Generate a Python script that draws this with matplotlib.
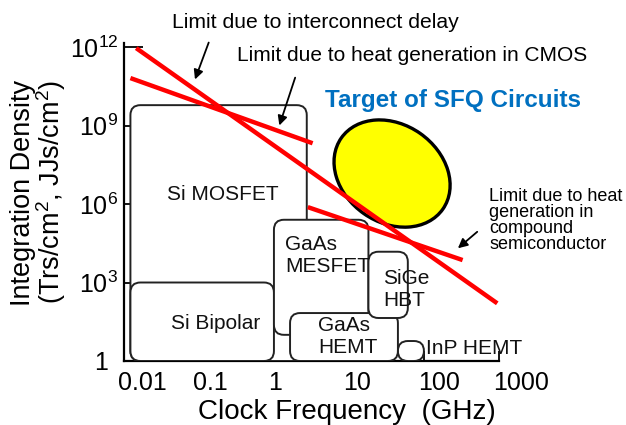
import matplotlib
matplotlib.use("Agg")
import matplotlib.pyplot as plt
from matplotlib.patches import FancyBboxPatch, Ellipse
from matplotlib.transforms import IdentityTransform, ScaledTranslation

plt.rcParams['font.family'] = ['Liberation Sans', 'DejaVu Sans']
plt.rcParams['mathtext.fontset'] = 'custom'
plt.rcParams['mathtext.rm'] = 'Liberation Sans'
plt.rcParams['mathtext.it'] = 'Liberation Sans:italic'
plt.rcParams['mathtext.bf'] = 'Liberation Sans:bold'

# device regions: clock frequency range (GHz) x integration density range
devices = ["Si MOSFET", "Si Bipolar", "GaAs\nMESFET", "GaAs\nHEMT", "SiGe\nHBT", "InP HEMT"]
f_low = [0.0122, 0.0122, 1.0, 1.64, 18.2, 45]
f_high = [2.74, 1.0, 18.2, 45, 61, 100]
d_low = [1, 1, 10, 1, 44, 1]
d_high = [6e9, 1e3, 2.5e5, 68, 1.5e4, 5.8]

# where each device name sits
label_f = [0.21, 0.165, 1.40, 3.9, 28.5, 105]
label_d = [2.4e6, 28, 1.07e4, 9.0, 540, 3.1]
label_ha = ["center", "center", "left", "left", "left", "left"]

# limit lines (two end points each)
interconnect_f = [0.01455, 950]
interconnect_d = [9.1e11, 160]
cmos_f = [0.0122, 3.28]
cmos_d = [6.5e10, 2.1e8]
compound_f = [2.83, 328]
compound_d = [7.6e5, 7.2e3]

# SFQ target region
sfq_f = 37.6
sfq_d = 1.46e7

xticks = [0.01, 0.1, 1, 10, 100, 1000]
xticklabels = ["0.01", "0.1", "1", "10", "100", "1000"]
yticks = [1, 1e3, 1e6, 1e9, 1e12]
yticklabels = ["1", "$10^3$", "$10^6$", "$10^9$", "$10^{12}$"]

fig = plt.figure(figsize=(6.26, 4.25), dpi=100)
ax = fig.add_axes([0.198, 0.1506, 0.599, 0.748])
ax.set_xscale("log")
ax.set_yscale("log")
ax.set_xlim(0.0122, 1000)
ax.set_ylim(1, 10**12.15)

for side in ["top", "right"]:
    ax.spines[side].set_visible(False)
for side in ["left", "bottom"]:
    ax.spines[side].set_linewidth(1.6)
    ax.spines[side].set_zorder(1)

ax.set_xticks(xticks)
ax.set_xticklabels(xticklabels, ha="left")
ax.set_yticks(yticks)
ax.set_yticklabels(yticklabels)
ax.minorticks_off()
ax.tick_params(axis="x", direction="in", length=7.5, width=1.3, labelsize=18, pad=7)
ax.tick_params(axis="y", direction="in", length=14, width=1.3, labelsize=18, pad=4)

# x labels sit a little left of their ticks
shift = ScaledTranslation(-0.06, 0, fig.dpi_scale_trans)
for lab in ax.get_xticklabels():
    lab.set_transform(lab.get_transform() + shift)
# the plain "1" on the y axis is set further in
ylab0 = ax.get_yticklabels()[0]
ylab0.set_transform(ylab0.get_transform() + ScaledTranslation(-0.1, 0, fig.dpi_scale_trans))

ax.set_xlabel("Clock Frequency  (GHz)", fontsize=20)
ax.xaxis.set_label_coords(0.595, -0.12)
ax.set_ylabel("Integration Density\n(Trs/cm$^2$, JJs/cm$^2$)", fontsize=19.5, linespacing=0.95)
ax.yaxis.set_label_coords(-0.148, 0.53)

# rounded device boxes, drawn in pixel space so the corners stay round
for i, name in enumerate(devices):
    (x0, y0), (x1, y1) = ax.transData.transform([(f_low[i], d_low[i]), (f_high[i], d_high[i])])
    box = FancyBboxPatch((x0, y0), x1 - x0, y1 - y0,
                         boxstyle="round,pad=0,rounding_size=10",
                         transform=IdentityTransform(), facecolor="white",
                         edgecolor="#222222", linewidth=1.4, zorder=2 + i * 0.1)
    ax.add_artist(box)
    ax.text(label_f[i], label_d[i], name, fontsize=15, ha=label_ha[i], va="center",
            multialignment="left", linespacing=1.2, color="#111111", zorder=4)

# limit lines
for fx, dy in [(interconnect_f, interconnect_d), (cmos_f, cmos_d), (compound_f, compound_d)]:
    ax.plot(fx, dy, color="#ff0000", linewidth=3.2, solid_capstyle="butt", zorder=5, clip_on=False)

# SFQ target ellipse (size in inches, centred on data point)
target = Ellipse((0, 0), 1.24, 0.98, angle=-35,
                 transform=fig.dpi_scale_trans + ScaledTranslation(sfq_f, sfq_d, ax.transData),
                 facecolor="#ffff00", edgecolor="black", linewidth=2.4, zorder=4.5)
ax.add_artist(target)

ax.text(243, 10**9.97, "Target of SFQ Circuits", fontsize=17.5, fontweight="bold",
        color="#0070c0", ha="center", va="center")

ax.text(0.044, 10**12.95, "Limit due to interconnect delay", fontsize=15.2,
        ha="left", va="center", clip_on=False)
ax.text(0.324, 10**11.69, "Limit due to heat generation in CMOS", fontsize=15,
        ha="left", va="center", clip_on=False)
ax.text(740, 10**5.36, "Limit due to heat\ngeneration in\ncompound\nsemiconductor",
        fontsize=13, ha="left", va="center", linespacing=0.93, clip_on=False)

arrow = dict(arrowstyle="-|>", color="black", linewidth=1.3, mutation_scale=14)
ax.annotate("", xy=(0.086, 10**10.66), xytext=(0.139, 10**12.27), arrowprops=arrow,
            annotation_clip=False)
ax.annotate("", xy=(1.15, 10**8.90), xytext=(1.97, 10**10.93), arrowprops=arrow,
            annotation_clip=False)
ax.annotate("", xy=(266, 10**4.24), xytext=(548, 10**5.006), arrowprops=arrow,
            annotation_clip=False)

fig.savefig("out.png", dpi=100)
